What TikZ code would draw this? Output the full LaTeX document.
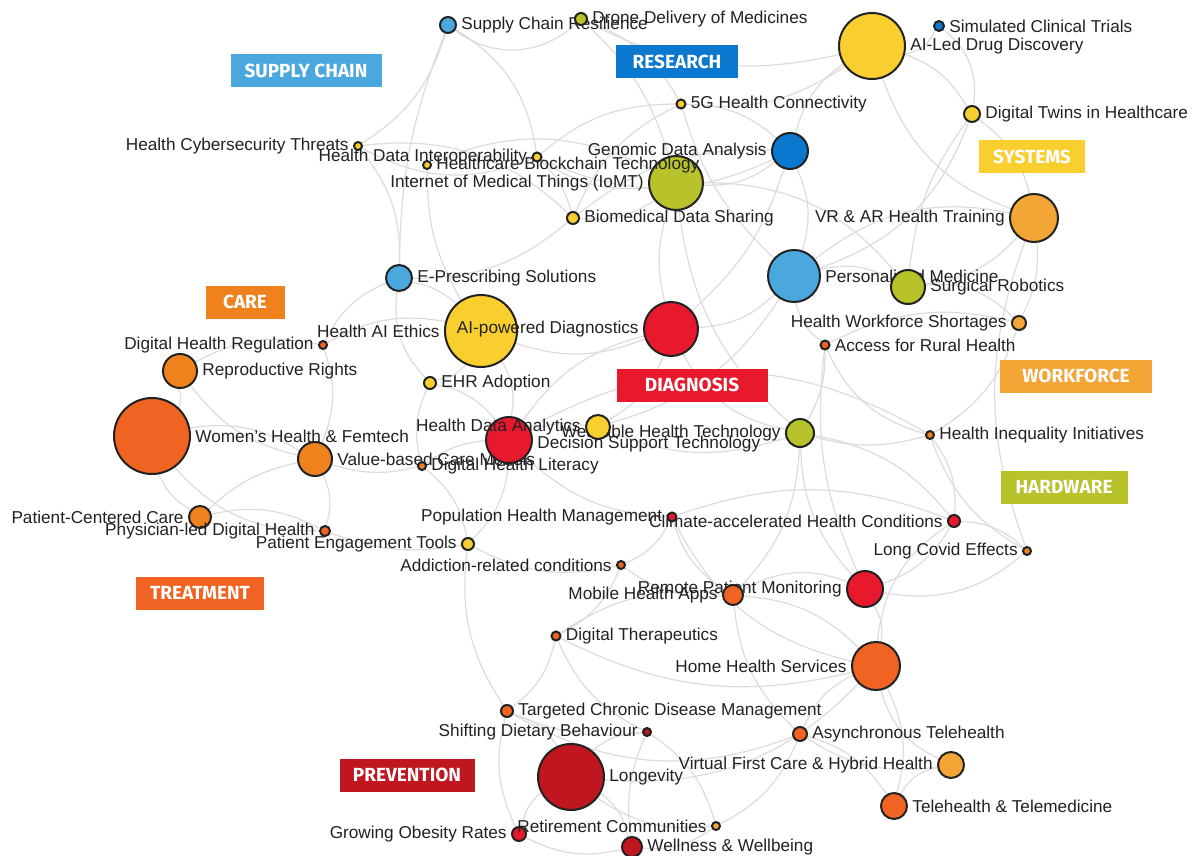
\documentclass[tikz,border=0pt]{standalone}
\usepackage{fontspec}
\setmainfont{Liberation Sans}
\newfontfamily\tagfont{Fira Sans}
\usetikzlibrary{positioning}

\definecolor{cSupply}{HTML}{4BA8DE}
\definecolor{cResearch}{HTML}{0B78D0}
\definecolor{cSystems}{HTML}{F9CF2F}
\definecolor{cHardware}{HTML}{B8C22A}
\definecolor{cCare}{HTML}{F0821E}
\definecolor{cWorkforce}{HTML}{F3A536}
\definecolor{cDiagnosis}{HTML}{E8192C}
\definecolor{cTreatment}{HTML}{F06322}
\definecolor{cPrevention}{HTML}{C0161F}
\definecolor{edgegray}{HTML}{DCDCDC}
\definecolor{txt}{HTML}{222222}

\pgfdeclarelayer{edges}
\pgfsetlayers{edges,main}

\begin{document}
\begin{tikzpicture}[
  x=0.5pt, y=-0.5pt,
  topic/.style={
    circle, draw=txt, line width=1pt, inner sep=0pt,
    minimum size=#1
  },
  every label/.style={
    inner sep=1pt, text=txt,
    font=\fontsize{8.6}{10}\selectfont
  },
  label distance=1pt,
  tagbox/.style={
    rectangle, fill=#1, text=white, inner sep=0pt,
    minimum height=16.5pt,
    font=\tagfont\bfseries\fontsize{9.5}{11}\selectfont
  },
  edge/.style={
    draw=edgegray, line width=0.6pt
  }
]
\useasboundingbox (0,0) rectangle (1195,856);

% Top: research and supply chain
\node[topic=8pt, fill=cSupply, label={0:Supply Chain Resilience}] (scr) at (448,25) {};
\node[topic=6pt, fill=cHardware, label={0:Drone Delivery of Medicines}] (ddm) at (581,19) {};
\node[topic=33pt, fill=cSystems, label={0:AI-Led Drug Discovery}] (adrug) at (872,46) {};
\node[topic=5pt, fill=cResearch, label={0:Simulated Clinical Trials}] (sct) at (939,26) {};
\node[topic=4.5pt, fill=cSystems, label={0:5G Health Connectivity}] (fiveg) at (681,104) {};
\node[topic=8pt, fill=cSystems, label={0:Digital Twins in Healthcare}] (dtw) at (972,114) {};
\node[topic=4pt, fill=cSystems, label={180:Health Cybersecurity Threats}] (hct) at (358,146) {};
\node[topic=18pt, fill=cResearch, label={180:Genomic Data Analysis}] (gda) at (790,151) {};
\node[topic=27pt, fill=cHardware, label={180:Internet of Medical Things (IoMT)}] (iomt) at (676,183) {};
\node[topic=4pt, fill=cSystems, label={0:Healthcare Blockchain Technology}] (hbt) at (427,165) {};
\node[topic=4.5pt, fill=cSystems, label={180:Health Data Interoperability}] (hdi) at (537,157) {};
\node[topic=6pt, fill=cSystems, label={0:Biomedical Data Sharing}] (bds) at (573,218) {};
\node[topic=24pt, fill=cWorkforce, label={180:VR \& AR Health Training}] (vrar) at (1034,218) {};

% Middle band
\node[topic=13pt, fill=cSupply, label={0:E-Prescribing Solutions}] (eps) at (399,278) {};
\node[topic=26pt, fill=cSupply, label={0:Personalised Medicine}] (pm) at (794,276) {};
\node[topic=17pt, fill=cHardware, label={0:Surgical Robotics}] (sr) at (908,287) {};
\node[topic=7pt, fill=cWorkforce, label={180:Health Workforce Shortages}] (hws) at (1019,323) {};
\node[topic=4.5pt, fill=cTreatment, label={0:Access for Rural Health}] (arh) at (825,345) {};
\node[topic=36pt, fill=cSystems, label={180:Health AI Ethics}] (haie) at (481,331) {};
\node[topic=27pt, fill=cDiagnosis, label={180:AI-powered Diagnostics}] (aipd) at (671,329) {};
\node[topic=4pt, fill=cTreatment, label={180:Digital Health Regulation}] (dhr) at (323,345) {};
\node[topic=17pt, fill=cCare, label={0:Reproductive Rights}] (rr) at (180,371) {};
\node[topic=6pt, fill=cSystems, label={0:EHR Adoption}] (ehr) at (430,383) {};
\node[topic=38pt, fill=cTreatment, label={0:Women's Health \& Femtech}] (whf) at (152,436) {};
\node[topic=17pt, fill=cCare, label={0:Value-based Care Models}] (vbc) at (315,459) {};
\node[topic=4pt, fill=cCare, label={0:Digital Health Literacy}] (dhl) at (422,466) {};
\node[topic=23pt, fill=cDiagnosis, label={[yshift=-2pt]0:Decision Support Technology}] (dst) at (509,440) {};
\node[topic=14pt, fill=cHardware, label={180:Wearable Health Technology}] (wht) at (800,433) {};
\node[topic=12pt, fill=cSystems, label={180:Health Data Analytics}] (hda) at (598,427) {};
\node[topic=4pt, fill=cCare, label={0:Health Inequality Initiatives}] (hii) at (930,435) {};

% Lower band
\node[topic=11pt, fill=cCare, label={180:Patient-Centered Care}] (pcc) at (200,517) {};
\node[topic=5pt, fill=cTreatment, label={180:Physician-led Digital Health}] (pdh) at (325,531) {};
\node[topic=6pt, fill=cSystems, label={180:Patient Engagement Tools}] (pet) at (468,544) {};
\node[topic=6pt, fill=cDiagnosis, label={180:Climate-accelerated Health Conditions}] (cahc) at (954,521) {};
\node[topic=4.5pt, fill=cDiagnosis, label={180:Population Health Management}] (phm) at (672,517) {};
\node[topic=4pt, fill=cCare, label={180:Long Covid Effects}] (lce) at (1027,551) {};
\node[topic=4pt, fill=cTreatment, label={180:Addiction-related conditions}] (arc) at (621,565) {};
\node[topic=18pt, fill=cDiagnosis, label={180:Remote Patient Monitoring}] (rpm) at (865,589) {};
\node[topic=10pt, fill=cTreatment, label={180:Mobile Health Apps}] (mha) at (733,595) {};
\node[topic=4.5pt, fill=cTreatment, label={0:Digital Therapeutics}] (dth) at (556,636) {};
\node[topic=24pt, fill=cTreatment, label={180:Home Health Services}] (hhs) at (876,666) {};
\node[topic=6pt, fill=cTreatment, label={0:Targeted Chronic Disease Management}] (tcdm) at (507,711) {};
\node[topic=4pt, fill=cPrevention, label={180:Shifting Dietary Behaviour}] (sdb) at (647,732) {};
\node[topic=7pt, fill=cTreatment, label={0:Asynchronous Telehealth}] (ath) at (800,734) {};
\node[topic=33pt, fill=cPrevention, label={0:Longevity}] (lon) at (571,777) {};
\node[topic=13pt, fill=cWorkforce, label={180:Virtual First Care \& Hybrid Health}] (vfc) at (951,765) {};
\node[topic=13pt, fill=cTreatment, label={0:Telehealth \& Telemedicine}] (ttm) at (894,806) {};
\node[topic=7pt, fill=cDiagnosis, label={180:Growing Obesity Rates}] (gor) at (519,834) {};
\node[topic=4pt, fill=cWorkforce, label={180:Retirement Communities}] (rc) at (716,826) {};
\node[topic=10pt, fill=cPrevention, label={0:Wellness \& Wellbeing}] (ww) at (632,847) {};

% Category tags
\node[tagbox=cSupply, minimum width=75.5pt] (tagSupply) at (306,71) {SUPPLY CHAIN};
\node[tagbox=cResearch, minimum width=61pt] (tagResearch) at (677,62) {RESEARCH};
\node[tagbox=cSystems, minimum width=53pt] (tagSystems) at (1032,157) {SYSTEMS};
\node[tagbox=cCare, minimum width=39.5pt] (tagCare) at (245,302) {CARE};
\node[tagbox=cDiagnosis, minimum width=75.5pt] (tagDiagnosis) at (692,385) {DIAGNOSIS};
\node[tagbox=cWorkforce, minimum width=76pt] (tagWorkforce) at (1076,376) {WORKFORCE};
\node[tagbox=cHardware, minimum width=63.5pt] (tagHardware) at (1064,487) {HARDWARE};
\node[tagbox=cTreatment, minimum width=64pt] (tagTreatment) at (200,593) {TREATMENT};
\node[tagbox=cPrevention, minimum width=67.5pt] (tagPrevention) at (407,775) {PREVENTION};

% Links
\begin{pgfonlayer}{edges}
\fill[white] (0,0) rectangle (1195,856);
\foreach \a/\b/\c in {
  scr/ddm/-40, scr/hct/20, scr/eps/-10, scr/hdi/25, ddm/fiveg/20, ddm/adrug/-20, ddm/iomt/15,
  hct/hdi/-25, hct/bds/25, hct/eps/20, hbt/iomt/25, hbt/haie/-15, hdi/iomt/-20, hdi/gda/-25,
  hdi/fiveg/20, hdi/bds/15, fiveg/gda/20, fiveg/bds/-20, fiveg/pm/-15, fiveg/adrug/-20,
  adrug/sct/-30, adrug/dtw/20, adrug/gda/-20, adrug/vrar/-25, sct/dtw/30, dtw/vrar/20,
  dtw/pm/25, dtw/sr/-15, gda/pm/20, gda/bds/-20, gda/aipd/15, gda/iomt/20,
  iomt/bds/20, iomt/wht/-20, iomt/sr/25, iomt/aipd/-15, vrar/sr/20, vrar/hws/15,
  vrar/pm/-25, vrar/lce/-20, eps/haie/15, eps/ehr/-25, eps/dhr/-20, eps/bds/-20,
  pm/sr/20, pm/aipd/20, pm/arh/-20, pm/hda/20, sr/hws/25, hws/arh/-20, hws/hii/20,
  arh/wht/15, arh/hii/-25, arh/rpm/-15, haie/aipd/-20, haie/ehr/20, haie/dhr/-20,
  haie/dst/20, aipd/dst/-20, aipd/hda/20, aipd/wht/-25, dhr/rr/-20, dhr/vbc/20,
  rr/whf/20, rr/vbc/-20, whf/pcc/-20, whf/vbc/20, whf/pdh/-25, vbc/dhl/-15, vbc/pdh/20,
  vbc/pcc/-15, pcc/pdh/20, pdh/pet/-15, dhl/dst/15, dhl/pet/20, ehr/dhl/-20, ehr/dst/20,
  dst/hda/15, hda/wht/-20, dst/phm/-20, dst/pet/20, dst/hii/30, wht/hii/-15, wht/cahc/20,
  wht/rpm/-20, wht/mha/20, hii/lce/-20, hii/cahc/20, cahc/lce/20, cahc/phm/-20,
  cahc/rpm/20, cahc/hhs/-25, phm/arc/20, phm/mha/-20, phm/hhs/-25, pet/arc/-20,
  arc/dth/20, arc/mha/-20, rpm/mha/-25, rpm/hhs/20, lce/rpm/25, mha/dth/-20, mha/hhs/20,
  mha/ath/-20, dth/tcdm/20, dth/sdb/-20, dth/hhs/-20, hhs/ath/-20, hhs/ttm/20,
  hhs/vfc/-25, hhs/lon/25, tcdm/sdb/-15, tcdm/lon/20, tcdm/gor/-20, tcdm/ath/-25,
  sdb/lon/-20, sdb/rc/20, sdb/ww/-15, ath/vfc/-20, ath/ttm/20, vfc/ttm/-25, ath/rc/20,
  lon/gor/-20, lon/ww/20, lon/rc/-20, rc/ww/20, gor/ww/-20, pet/tcdm/-20}
  \draw[edge] (\a) to[bend left=\c] (\b);
\end{pgfonlayer}

\end{tikzpicture}
\end{document}
